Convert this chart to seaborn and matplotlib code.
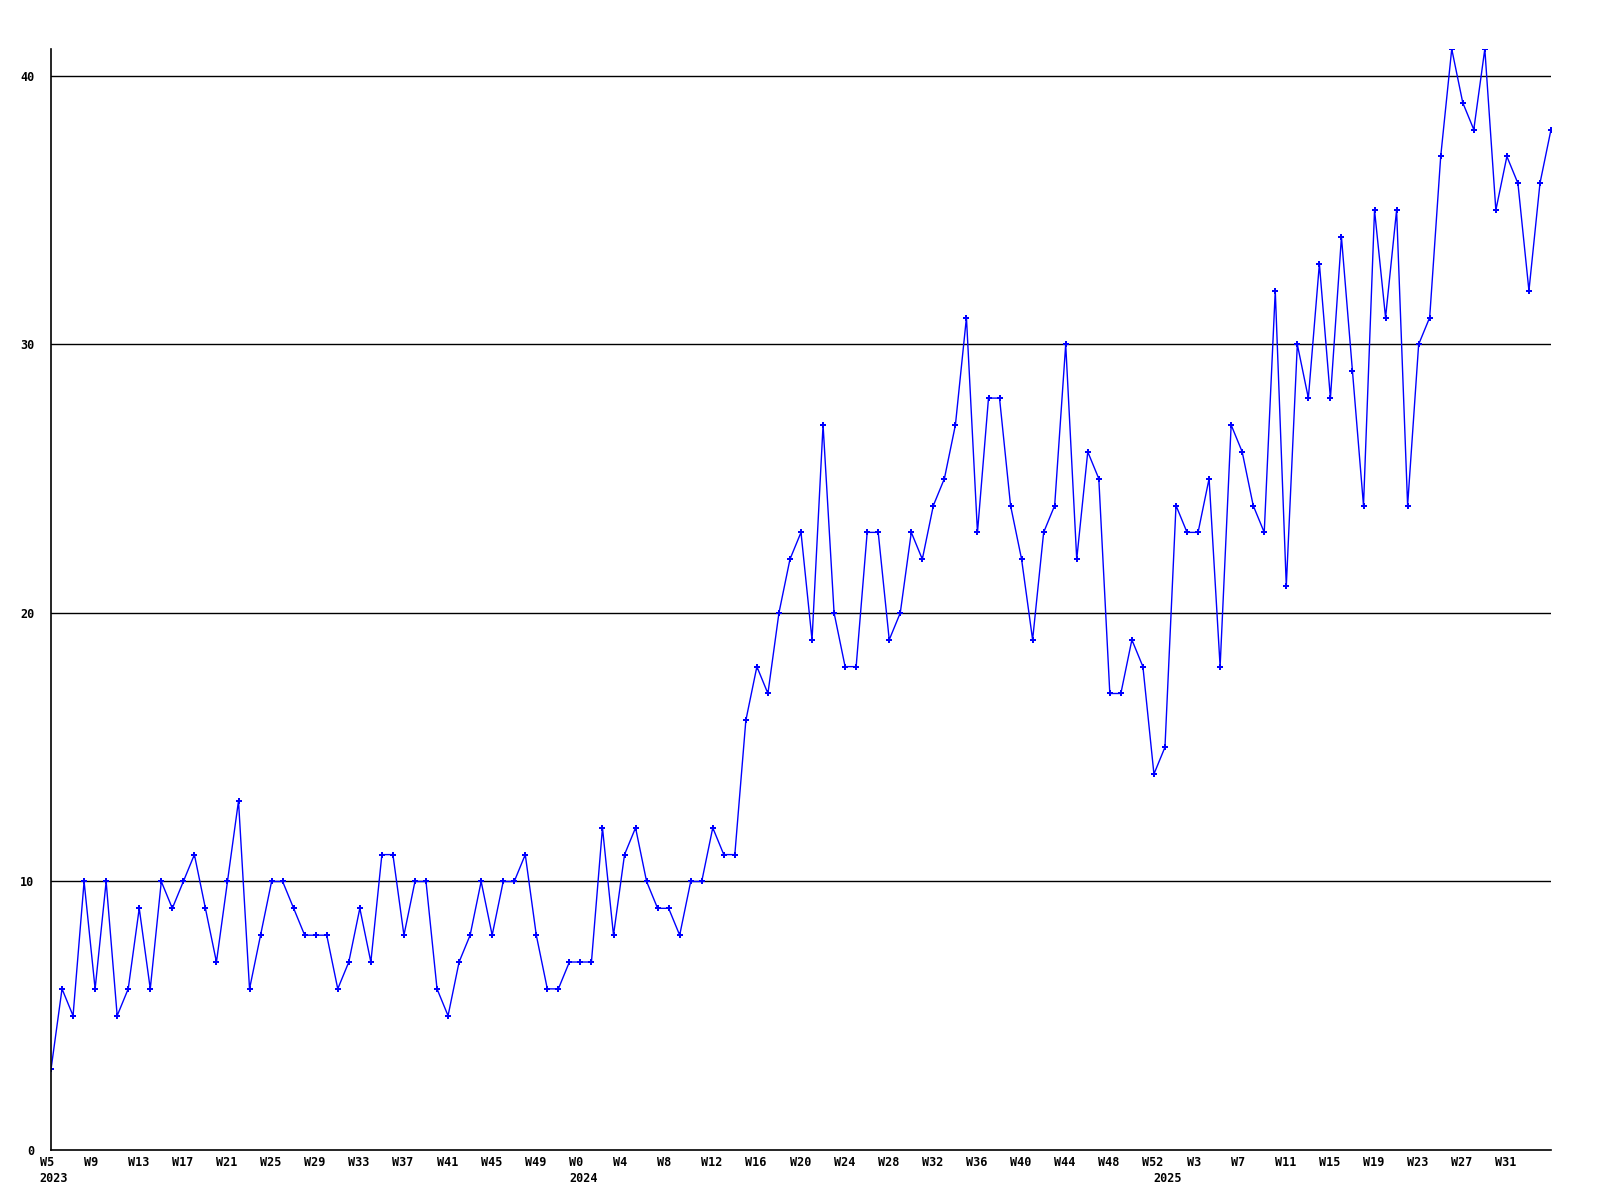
import matplotlib
matplotlib.use("Agg")
import matplotlib.pyplot as plt
import matplotlib.transforms as mtransforms
import seaborn as sns
import pandas as pd

# ---- data -------------------------------------------------------------
weeks_2023 = list(range(5, 53))   # W5 .. W52
weeks_2024 = list(range(0, 53))   # W0 .. W52
weeks_2025 = list(range(0, 36))   # W0 .. W35

values = [
    3, 6, 5, 10, 6, 10, 5, 6, 9, 6,
    10, 9, 10, 11, 9, 7, 10, 13, 6, 8,
    10, 10, 9, 8, 8, 8, 6, 7, 9, 7,
    11, 11, 8, 10, 10, 6, 5, 7, 8, 10,
    8, 10, 10, 11, 8, 6, 6,
    7, 7, 7, 12, 8, 11, 12, 10, 9, 9, 8, 10, 10, 12, 11, 11,
    16, 18, 17, 20, 22, 23, 19, 27, 20, 18,
    18, 23, 23, 19, 20, 23, 22, 24, 25, 27,
    31, 23, 28, 28, 24, 22, 19, 23, 24, 30,
    22, 26, 25, 17, 17, 19, 18,
    14, 15, 24, 23, 23, 25, 18, 27, 26, 24,
    23, 32, 21, 30, 28, 33, 28, 34, 29, 24,
    35, 31, 35, 24, 30, 31, 37, 41, 39, 38,
    41, 35, 37, 36, 32, 36, 38,
]
y_ticks = [0, 10, 20, 30, 40]

years = ["2023"] * len(weeks_2023) + ["2024"] * len(weeks_2024) + ["2025"] * len(weeks_2025)
weeks = weeks_2023 + weeks_2024 + weeks_2025
df = pd.DataFrame({"pos": range(len(values)), "year": years, "week": weeks, "value": values})

# ---- figure -----------------------------------------------------------
sns.set_theme(style="white")
plt.rcParams["font.family"] = ["DejaVu Sans Mono", "DejaVu Sans"]
plt.rcParams["font.weight"] = "bold"

fig = plt.figure(figsize=(16, 12), dpi=100)
ax = fig.add_axes([51 / 1600, 1 - 1150 / 1200, 1500 / 1600, (1150 - 49) / 1200])

sns.lineplot(data=df, x="pos", y="value", ax=ax, color="#0000ff", linewidth=1.0,
             marker="P", markersize=4, markeredgewidth=0, markerfacecolor="#0000ff")

ax.set_xlim(0, len(values) - 1)
ax.set_ylim(0, 41)
ax.set_xlabel("")
ax.set_ylabel("")

for s in ["top", "right"]:
    ax.spines[s].set_visible(False)
for s in ["left", "bottom"]:
    ax.spines[s].set_color("black")
    ax.spines[s].set_linewidth(1.2)

# horizontal grid lines
ax.set_yticks(y_ticks)
ax.set_yticklabels([str(v) for v in y_ticks])
for v in y_ticks[1:]:
    ax.axhline(v, color="black", linewidth=1.0, zorder=1)
ax.grid(False)
ax.tick_params(axis="y", length=0, pad=12, labelsize=8.5, colors="black")

# x tick labels every 4th week (none at the very right edge)
sub = df[::4]
sub = sub[sub["pos"] < len(values) - 2]
ax.set_xticks(sub["pos"].tolist())
ax.set_xticklabels(["W%d" % w for w in sub["week"]])
ax.tick_params(axis="x", length=0, pad=4.5, labelsize=8.5, colors="black")
offset = mtransforms.ScaledTranslation(-11.5 / 100, 0, fig.dpi_scale_trans)
for lab in ax.get_xticklabels():
    lab.set_horizontalalignment("left")
    lab.set_transform(lab.get_transform() + offset)
    lab.set_fontweight("bold")
for lab in ax.get_yticklabels():
    lab.set_fontweight("bold")

# year labels at first week of each year
trans = mtransforms.blended_transform_factory(ax.transData, ax.transAxes) + offset
first = df.groupby("year", sort=False)["pos"].min()
for yr, p in first.items():
    ax.text(p, 0, yr, transform=trans + mtransforms.ScaledTranslation(0, -22 / 100, fig.dpi_scale_trans),
            ha="left", va="top", fontsize=8.5, fontweight="bold", color="black")

fig.savefig("out.png", dpi=100, facecolor="white")
